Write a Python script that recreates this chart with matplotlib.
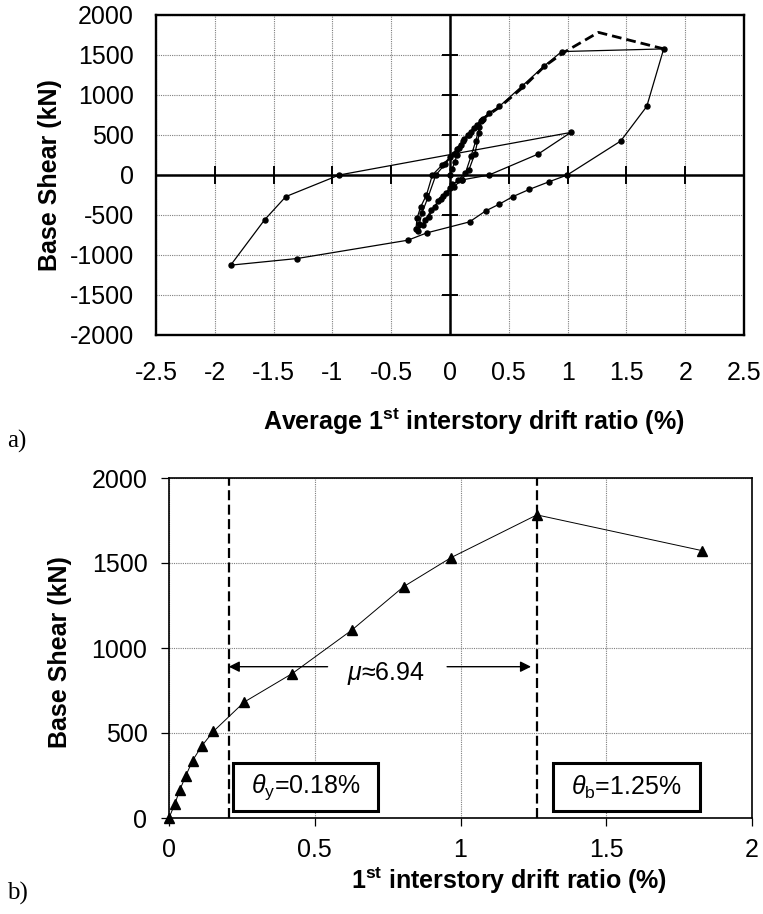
import matplotlib
matplotlib.use('Agg')
import matplotlib.pyplot as plt
from matplotlib.patches import Rectangle
from matplotlib.ticker import FuncFormatter

plt.rcParams['font.family'] = ['Liberation Sans', 'DejaVu Sans']
plt.rcParams['mathtext.fontset'] = 'custom'
plt.rcParams['mathtext.rm'] = 'Liberation Sans'
plt.rcParams['mathtext.it'] = 'Liberation Sans:italic'
plt.rcParams['mathtext.bf'] = 'Liberation Sans:bold'
plt.rcParams['axes.unicode_minus'] = False

# ---------------- data ----------------
# (a) hysteresis: average 1st interstory drift ratio (%) vs base shear (kN)
hyst_drift = [0, 0.02, 0.04, 0.06, 0.08, 0.11, 0.15, 0.2, 0.26,
              0.25, 0.21, 0.16, 0.1, 0.03, -0.03, -0.08, -0.13, -0.18, -0.23, -0.29,
              -0.28, -0.25, -0.2, -0.15, -0.07, 0.0, 0.06, 0.12, 0.18, 0.27,
              0.25, 0.22, 0.18, 0.13, 0.07, 0.0, -0.06, -0.1, -0.16, -0.21, -0.27,
              -0.26, -0.24, -0.19, -0.12, -0.04, 0.03, 0.09, 0.16, 0.23, 0.28,
              0.33, 0.42, 0.61, 0.8, 0.95,
              1.817, 1.673, 1.451, 0.997, 0.838, 0.676, 0.535, 0.417, 0.303, 0.166,
              -0.196, -0.358, -1.30, -1.865,
              -1.577, -1.396, -0.942, 1.027, 0.75, 0.332, 0.1, 0.02]
hyst_shear = [0, 80, 165, 250, 335, 420, 505, 590, 680,
              520, 260, 60, -60, -150, -230, -300, -400, -520, -620, -680,
              -540, -400, -250, 0, 120, 220, 330, 450, 540, 690,
              600, 430, 240, 20, -60, -160, -260, -330, -440, -560, -700,
              -610, -480, -290, 0, 140, 260, 370, 500, 620, 700,
              776, 858, 1108, 1362, 1543,
              1576, 857, 424, 0, -87, -179, -270, -366, -449, -586,
              -723, -815, -1044, -1127,
              -561, -270, 0, 532, 262, 0, -62, -110]

# (b) envelope (backbone) curve
backbone_drift = [0, 0.02, 0.037, 0.058, 0.081, 0.112, 0.152, 0.258,
                  0.423, 0.627, 0.805, 0.968, 1.262, 1.828]
backbone_shear = [0, 83, 165, 250, 338, 423, 509, 682,
                  850, 1105, 1361, 1532, 1783, 1573]
backbone_start_top = 7   # part of the envelope drawn dashed in (a)

top_xticks = [-2.5, -2, -1.5, -1, -0.5, 0, 0.5, 1, 1.5, 2, 2.5]
top_yticks = [-2000, -1500, -1000, -500, 0, 500, 1000, 1500, 2000]
bot_xticks = [0, 0.5, 1, 1.5, 2]
bot_yticks = [0, 500, 1000, 1500, 2000]

theta_y_line = 0.205
theta_b_line = 1.262
mu_arrow_y = 890
mu_left_from = 0.544
mu_right_from = 0.954
mu_right_to = 1.242
mu_text_pos = (0.745, 850)
box_y = (41, 324)
box_theta_y_x = (0.219, 0.717)
box_theta_b_x = (1.317, 1.820)

W, H = 763, 914
fig = plt.figure(figsize=(W / 100, H / 100), dpi=100)
fig.patch.set_facecolor('white')

fmt = FuncFormatter(lambda v, p: '%g' % v)
grid_kw = dict(color='#7f7f7f', linestyle=(0, (1, 1)), linewidth=0.8)

# ---------------- (a) ----------------
ax1 = fig.add_axes([156 / W, 1 - 335 / H, 588 / W, 320 / H])
ax1.set_xlim(-2.5, 2.5)
ax1.set_ylim(-2000, 2000)
ax1.set_xticks(top_xticks)
ax1.set_yticks(top_yticks)
ax1.xaxis.set_major_formatter(fmt)
ax1.yaxis.set_major_formatter(fmt)
ax1.grid(True, **grid_kw)
ax1.set_axisbelow(True)
ax1.tick_params(axis='x', length=0, labelsize=18, pad=19)
ax1.tick_params(axis='y', length=0, labelsize=18, pad=16)
for s in ax1.spines.values():
    s.set_linewidth(1.7)
ax1.axhline(0, color='k', lw=1.8, zorder=2)
ax1.axvline(0, color='k', lw=1.8, zorder=2)
inner_x = [t for t in top_xticks if t not in (0, top_xticks[0], top_xticks[-1])]
inner_y = [t for t in top_yticks if t not in (0, top_yticks[0], top_yticks[-1])]
ax1.plot(inner_x, [0] * len(inner_x), linestyle='none', marker='|', ms=13, mew=1.4, color='k', zorder=2)
ax1.plot([0] * len(inner_y), inner_y, linestyle='none', marker='_', ms=11, mew=1.4, color='k', zorder=2)
ax1.plot(hyst_drift, hyst_shear, '-o', color='k', lw=0.9, ms=3.6, zorder=3)
ax1.plot(backbone_drift[backbone_start_top:], backbone_shear[backbone_start_top:],
         color='k', lw=2.0, dashes=(3.5, 1.8), zorder=4)

fig.text(263 / W, 1 - 422 / H, 'Average 1$^{\\mathbf{st}}$ interstory drift ratio (%)',
         fontsize=18, fontweight='bold', ha='left', va='center')
fig.text(50 / W, 1 - 175 / H, 'Base Shear (kN)', rotation=90, fontsize=18,
         fontweight='bold', ha='center', va='center')
fig.text(7 / W, 1 - 441 / H, 'a)', fontsize=18, family='Liberation Serif',
         ha='left', va='center')

# ---------------- (b) ----------------
ax2 = fig.add_axes([169 / W, 1 - 818 / H, 583 / W, 340 / H])
ax2.set_xlim(0, 2)
ax2.set_ylim(0, 2000)
ax2.set_xticks(bot_xticks)
ax2.set_yticks(bot_yticks)
ax2.xaxis.set_major_formatter(fmt)
ax2.yaxis.set_major_formatter(fmt)
ax2.grid(True, **grid_kw)
ax2.set_axisbelow(True)
ax2.tick_params(axis='both', direction='out', length=5.5, width=0.9, labelsize=18)
ax2.tick_params(axis='x', pad=9)
ax2.tick_params(axis='y', pad=10)
for s in ax2.spines.values():
    s.set_linewidth(1.2)

ax2.axvline(theta_y_line, color='k', lw=1.6, dashes=(4.5, 2.0), zorder=3)
ax2.axvline(theta_b_line, color='k', lw=1.6, dashes=(4.5, 2.0), zorder=3)
ax2.plot(backbone_drift, backbone_shear, '-^', color='k', lw=0.7, ms=6.5,
         zorder=4, clip_on=False)

arrow_kw = dict(arrowstyle='-|>', color='k', lw=1.0, mutation_scale=16,
                shrinkA=0, shrinkB=0)
ax2.annotate('', xy=(theta_y_line, mu_arrow_y), xytext=(mu_left_from, mu_arrow_y),
             arrowprops=arrow_kw)
ax2.annotate('', xy=(mu_right_to, mu_arrow_y), xytext=(mu_right_from, mu_arrow_y),
             arrowprops=arrow_kw)
ax2.text(mu_text_pos[0], mu_text_pos[1], r'$\mu$≈6.94', fontsize=18,
         ha='center', va='center')

for (x0, x1), label in [(box_theta_y_x, r'$\theta_{\mathrm{y}}$=0.18%'),
                        (box_theta_b_x, r'$\theta_{\mathrm{b}}$=1.25%')]:
    ax2.add_patch(Rectangle((x0, box_y[0]), x1 - x0, box_y[1] - box_y[0],
                            facecolor='white', edgecolor='k', lw=2.2, zorder=5))
    ax2.text((x0 + x1) / 2, (box_y[0] + box_y[1]) / 2, label, fontsize=18,
             ha='center', va='center', zorder=6)

fig.text(667 / W, 1 - 881 / H, '1$^{\\mathbf{st}}$ interstory drift ratio (%)',
         fontsize=18, fontweight='bold', ha='right', va='center')
fig.text(60 / W, 1 - 652 / H, 'Base Shear (kN)', rotation=90, fontsize=18,
         fontweight='bold', ha='center', va='center')
fig.text(7 / W, 1 - 893 / H, 'b)', fontsize=18, family='Liberation Serif',
         ha='left', va='center')

fig.savefig('out.png', dpi=100, facecolor='white')
